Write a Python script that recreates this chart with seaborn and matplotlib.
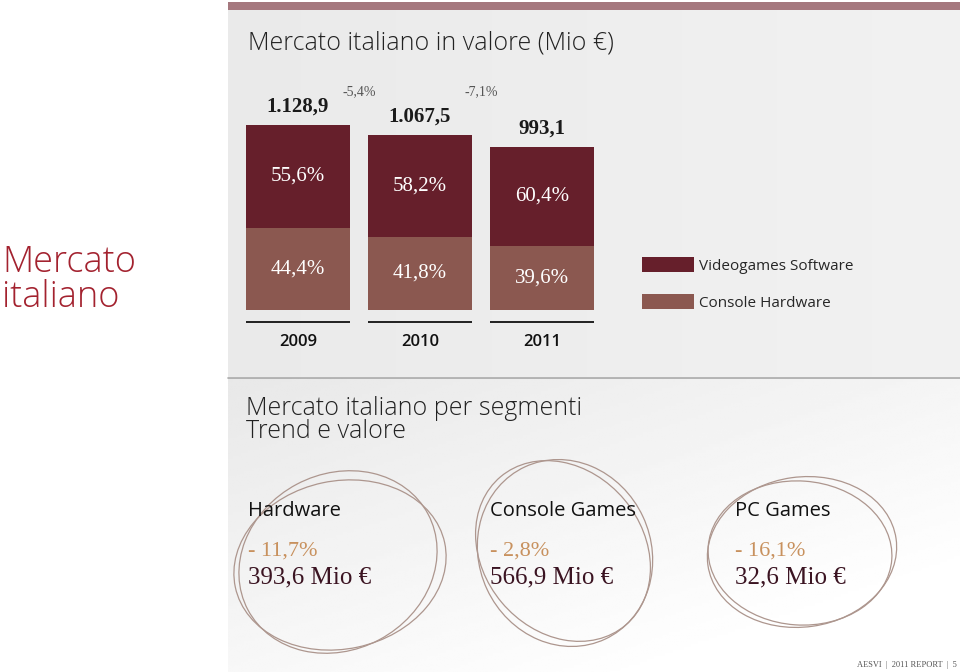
import numpy as np
import pandas as pd
import matplotlib
matplotlib.use("Agg")
import matplotlib.pyplot as plt
from matplotlib.patches import Ellipse, Patch, Rectangle
import seaborn as sns

# ---------- Data ----------
years = ["2009", "2010", "2011"]
totals = [1128.9, 1067.5, 993.1]
total_labels = ["1.128,9", "1.067,5", "993,1"]
software_pct = [55.6, 58.2, 60.4]
hardware_pct = [44.4, 41.8, 39.6]
change_labels = ["-5,4%", "-7,1%"]

segments = ["Hardware", "Console Games", "PC Games"]
segment_trend = ["- 11,7%", "- 2,8%", "- 16,1%"]
segment_value = ["393,6 Mio €", "566,9 Mio €", "32,6 Mio €"]

SOFT = "#661f2b"
HARD = "#8b5850"
RED = "#a3222f"
ORANGE = "#c8915e"
DARK = "#3b1422"
LOOP = "#ad968e"

sns.set_style("white")
plt.rcParams["font.family"] = ["Open Sans", "DejaVu Sans"]
SERIF = ["Liberation Serif", "DejaVu Serif"]

df = pd.DataFrame({"year": years, "total": totals,
                   "software": [t * p / 100 for t, p in zip(totals, software_pct)],
                   "hardware": [t * p / 100 for t, p in zip(totals, hardware_pct)]})

W, H = 960, 672
fig = plt.figure(figsize=(9.6, 6.72), dpi=100)

# ---------- background panel (pixel coords) ----------
bg = fig.add_axes([0, 0, 1, 1], zorder=0)
bg.axis("off")

gx = np.linspace(0, 1, 200)
gy = np.linspace(0, 1, 100)
GX, GY = np.meshgrid(gx, gy)
upper = 0.915 + 0.03 * GX
lower = 0.91 + 0.05 * GX + 0.06 * GY
bg.imshow(upper, cmap="gray", vmin=0, vmax=1, extent=(228, W, 377, 10), aspect="auto")
bg.imshow(np.clip(lower, 0, 1), cmap="gray", vmin=0, vmax=1, extent=(228, W, H, 378), aspect="auto")
bg.add_patch(Rectangle((228, 2), W - 228, 8, color="#a5787e", lw=0))
bg.plot([228, W], [377.5, 377.5], color="#a8a8a8", lw=1.2)
bg.set_xlim(0, W)
bg.set_ylim(H, 0)

bg.text(248, 43, "Mercato italiano in valore (Mio €)", fontsize=18, fontweight="light",
        color="#222222", va="center", ha="left")
bg.text(2, 280, "Mercato\nitaliano", fontsize=26, fontweight="light", color=RED,
        va="center", ha="left", linespacing=0.95)
bg.text(246, 420, "Mercato italiano per segmenti\nTrend e valore", fontsize=18,
        fontweight="light", color="#222222", va="center", ha="left", linespacing=0.85)

# hand drawn loops around the segment figures
loops = [((340, 565), 214, 168, -12), ((338, 562), 204, 176, -28),
         ((565, 553), 172, 190, -25), ((563, 551), 160, 194, -40),
         ((802, 552), 190, 150, -8), ((800, 553), 184, 144, 4)]
for c, w, h, a in loops:
    bg.add_patch(Ellipse(c, w, h, angle=a, fill=False, ec=LOOP, lw=0.9))

seg_x = [248, 490, 735]
for x, name, tr, val in zip(seg_x, segments, segment_trend, segment_value):
    bg.text(x, 511, name, fontsize=14.5, color="#111111", va="center", ha="left")
    bg.text(x, 551, tr, fontsize=16, color=ORANGE, family=SERIF, va="center", ha="left")
    bg.text(x, 577, val, fontsize=18, color=DARK, family=SERIF, va="center", ha="left")

bg.text(957, 665, "AESVI  |  2011 REPORT  |  5", fontsize=6, color="#555555", family=SERIF,
        va="center", ha="right")

# ---------- stacked bars ----------
ax = fig.add_axes([237 / W, 1 - 310 / H, 366 / W, 230 / H], zorder=2)
ax.patch.set_alpha(0)
sns.barplot(data=df, x="year", y="total", color=SOFT, saturation=1, width=0.85,
            linewidth=0, errorbar=None, ax=ax)
sns.barplot(data=df, x="year", y="hardware", color=HARD, saturation=1, width=0.85,
            linewidth=0, errorbar=None, ax=ax)
ax.set_ylim(0, 1403)
ax.set_xlim(-0.5, 2.5)
ax.set_xlabel("")
ax.set_ylabel("")
ax.set_yticks([])
sns.despine(ax=ax, left=True, bottom=True)
ax.tick_params(axis="x", length=0, pad=17)
ax.set_xticks(range(len(years)))
ax.set_xticklabels(years, fontsize=12, fontweight="semibold", color="#111111")

ax.bar_label(ax.containers[1], labels=[f"{p:.1f}%".replace(".", ",") for p in hardware_pct],
             label_type="center", color="white", fontsize=15, family=SERIF)
for i, (hw, sw, p) in enumerate(zip(df["hardware"], df["software"], software_pct)):
    ax.text(i, hw + sw / 2, f"{p:.1f}%".replace(".", ","), ha="center", va="center",
            color="white", fontsize=15, family=SERIF)
for i, (t, lab) in enumerate(zip(totals, total_labels)):
    ax.annotate(lab, (i, t), xytext=(0, 6), textcoords="offset points", ha="center",
                va="bottom", fontsize=15, fontweight="bold", family=SERIF, color="#1a1a1a")
for i, lab in enumerate(change_labels):
    ax.text(i + 0.5, 0.948, lab, transform=ax.get_xaxis_transform(), ha="center",
            va="center", fontsize=10, family=SERIF, color="#555555")
for i in range(len(years)):
    ax.hlines(-72, i - 0.425, i + 0.425, color="#111111", lw=1.3, clip_on=False)

handles = [Patch(color=SOFT, lw=0), Patch(color=HARD, lw=0)]
fig.legend(handles, ["Videogames Software", "Console Hardware"], loc="upper left",
           bbox_to_anchor=(642 / W, 1 - 257 / H), frameon=False, fontsize=11,
           handlelength=3.4, handleheight=1.1, handletextpad=0.35, labelspacing=1.35,
           borderpad=0, borderaxespad=0)

fig.savefig("out.png", dpi=100)
